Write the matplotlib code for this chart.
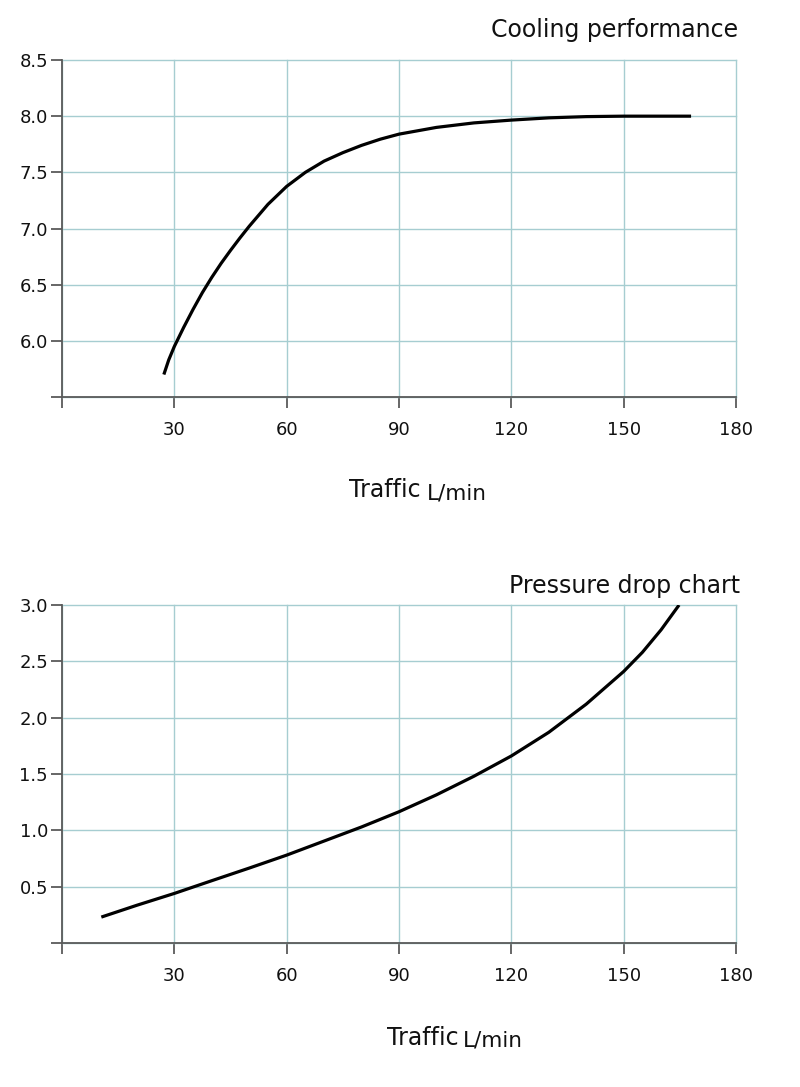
import matplotlib
matplotlib.use("Agg")
import matplotlib.pyplot as plt

# ---- data ----
cool_x = [27.2, 28.5, 30.0, 32.5, 35.0, 37.5, 40.0, 42.5, 45.0, 47.5, 50.0, 55.0, 60.0,
          65.0, 70.0, 75.0, 80.0, 85.0, 90.0, 100.0, 110.0, 120.0, 130.0, 140.0, 150.0, 168.0]
cool_y = [5.70, 5.83, 5.95, 6.12, 6.28, 6.43, 6.565, 6.69, 6.805, 6.915, 7.02, 7.215, 7.375,
          7.50, 7.60, 7.675, 7.74, 7.795, 7.84, 7.90, 7.94, 7.965, 7.985, 7.996, 8.00, 8.00]

pres_x = [10.5, 20.0, 30.0, 40.0, 50.0, 60.0, 70.0, 80.0, 90.0, 100.0, 110.0, 120.0,
          130.0, 140.0, 150.0, 155.0, 160.0, 164.8]
pres_y = [0.23, 0.335, 0.44, 0.553, 0.665, 0.78, 0.905, 1.03, 1.165, 1.315, 1.48, 1.66,
          1.87, 2.12, 2.41, 2.58, 2.78, 3.00]

x_ticks = [0, 30, 60, 90, 120, 150, 180]
x_labels = ["", "30", "60", "90", "120", "150", "180"]
cool_ticks = [5.5, 6.0, 6.5, 7.0, 7.5, 8.0, 8.5]
cool_labels = ["", "6.0", "6.5", "7.0", "7.5", "8.0", "8.5"]
pres_ticks = [0.0, 0.5, 1.0, 1.5, 2.0, 2.5, 3.0]
pres_labels = ["", "0.5", "1.0", "1.5", "2.0", "2.5", "3.0"]

titles = ["Cooling performance", "Pressure drop chart"]

W, H = 800, 1087
plt.rcParams['font.family'] = ['DejaVu Sans']
fig = plt.figure(figsize=(8, 10.87), dpi=100)

grid_c = "#a6cdd1"
spine_c = "#5a5a5a"

def make_ax(top_px, bot_px, xs, ys, yticks, ylabels, ylim, title, title_base, title_right):
    ax = fig.add_axes([62 / W, 1 - bot_px / H, (736 - 62) / W, (bot_px - top_px) / H])
    ax.plot(xs, ys, color="black", lw=2.3, solid_capstyle="butt",
            solid_joinstyle="round", zorder=3)
    ax.set_xlim(0, 180)
    ax.set_ylim(*ylim)
    ax.set_xticks(x_ticks)
    ax.set_xticklabels(x_labels)
    ax.set_yticks(yticks)
    ax.set_yticklabels(ylabels)
    for s in ["top", "right"]:
        ax.spines[s].set_visible(False)
    for s in ["left", "bottom"]:
        ax.spines[s].set_color(spine_c)
        ax.spines[s].set_linewidth(1.3)
        ax.spines[s].set_zorder(4)
    ax.tick_params(axis="both", direction="out", length=8, width=1.3, color=spine_c,
                   labelsize=13, labelcolor="#111111")
    ax.tick_params(axis="x", pad=9)
    ax.tick_params(axis="y", pad=2)
    ax.grid(True, color=grid_c, lw=1.0, zorder=0)
    ax.set_axisbelow(True)
    for ln in ax.get_xgridlines() + ax.get_ygridlines():
        ln.set_clip_on(False)
    fig.text(title_right / W, 1 - title_base / H, title, ha="right", va="baseline",
             fontsize=17, color="#111111")
    return ax

make_ax(60, 397, cool_x, cool_y, cool_ticks, cool_labels, (5.5, 8.5), titles[0], 37, 738)
make_ax(605, 943, pres_x, pres_y, pres_ticks, pres_labels, (0.0, 3.0), titles[1], 593, 740)

# x-axis labels
fig.text(349 / W, 1 - 497 / H, "Traffic", ha="left", va="baseline", fontsize=17, color="#111111")
fig.text(427 / W, 1 - 500 / H, "L/min", ha="left", va="baseline", fontsize=15.5, color="#111111")
fig.text(387 / W, 1 - 1045 / H, "Traffic", ha="left", va="baseline", fontsize=17, color="#111111")
fig.text(463 / W, 1 - 1047 / H, "L/min", ha="left", va="baseline", fontsize=15.5, color="#111111")

fig.savefig("out.png", dpi=100, facecolor="white")
